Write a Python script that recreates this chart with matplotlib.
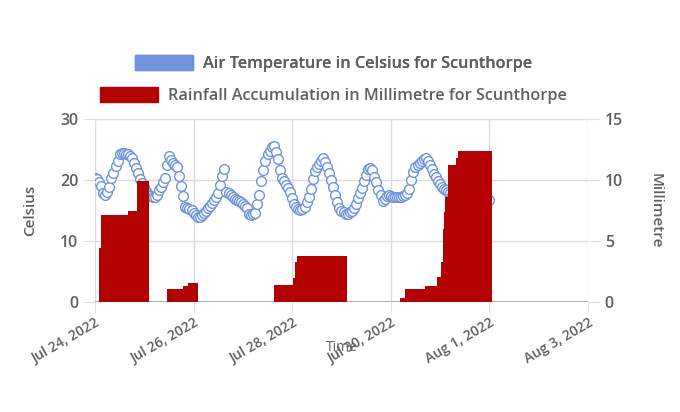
import datetime as dt
import matplotlib
matplotlib.use("Agg")
from matplotlib import pyplot as plt
import matplotlib.dates as mdates
from matplotlib.patches import Patch

plt.rcParams['font.family'] = ['Open Sans', 'DejaVu Sans']

start = dt.datetime(2022, 7, 24)

# hourly air temperature (Celsius), from Jul 24 00:00
temp_c = [20.4, 20.2, 19.6, 19.0, 17.8, 17.6, 18.1, 18.8, 20.3, 21.2,
          22.3, 23.2, 24.2, 24.5, 24.4, 24.2, 24.3, 24.0, 23.6, 22.8,
          22.0, 21.1, 20.2, 19.5, 18.8, 18.2, 17.7, 17.4, 17.2, 17.3,
          17.6, 18.3, 18.9, 19.6, 20.4, 22.5, 23.9, 23.3, 22.8, 22.5,
          22.2, 20.6, 19.0, 17.4, 15.6, 15.4, 15.2, 15.1, 14.6, 14.3,
          14.0, 14.0, 14.2, 14.6, 15.0, 15.4, 15.8, 16.2, 16.7, 17.3,
          17.9, 19.2, 20.6, 21.8, 18.1, 17.8, 17.5, 17.2, 16.9, 16.7,
          16.5, 16.4, 16.1, 15.8, 15.4, 14.5, 14.2, 14.4, 14.6, 16.0,
          17.5, 19.8, 21.6, 23.1, 24.2, 24.8, 25.4, 25.6, 24.6, 23.5,
          21.6, 20.4, 19.8, 19.2, 18.7, 18.1, 17.0, 16.1, 15.6, 15.3,
          15.1, 15.3, 15.6, 16.4, 17.2, 18.5, 20.2, 21.5, 22.2, 22.7,
          23.2, 23.6, 23.0, 22.2, 21.2, 20.0, 18.9, 17.6, 16.4, 15.4,
          15.0, 14.7, 14.5, 14.5, 14.7, 14.9, 15.4, 16.1, 17.0, 17.9,
          18.7, 19.8, 20.8, 21.8, 21.9, 21.6, 20.5, 19.6, 18.4, 17.6,
          16.6, 16.9, 17.4, 17.5, 17.4, 17.3, 17.3, 17.2, 17.3, 17.3,
          17.4, 17.6, 17.9, 18.5, 20.0, 21.3, 22.2, 22.4, 22.8, 23.1,
          23.5, 23.6, 23.1, 22.5, 21.8, 21.0, 20.5, 19.9, 19.3, 18.9,
          18.6, 18.3, 18.0, 17.8, 17.6, 17.5, 17.3, 17.2, 17.1, 17.0,
          17.0, 17.1, 17.4, 17.8, 18.2, 18.5, 18.6, 18.4, 18.0, 17.6,
          17.2, 17.0, 16.8]
temp_time = [start + dt.timedelta(hours=h) for h in range(len(temp_c))]

# rainfall accumulation steps: start hour, end hour, mm
rain_from = [2.1, 2.8, 16.0, 20.3,
             34.9, 43.0, 45.4,
             87.1, 96.2, 97.4, 98.2,
             148.5, 150.9, 160.5, 166.6, 168.3, 169.2, 169.9, 170.4, 172.0, 175.5, 176.8]
rain_to = [2.8, 16.0, 20.3, 26.3,
           43.0, 45.4, 50.0,
           96.2, 97.4, 98.2, 122.5,
           150.9, 160.5, 166.6, 168.3, 169.2, 169.9, 170.4, 172.0, 175.5, 176.8, 193.3]
rain_mm = [4.4, 7.1, 7.45, 9.95,
           1.1, 1.32, 1.56,
           1.37, 2.0, 3.24, 3.78,
           0.3, 1.04, 1.32, 2.06, 3.3, 6.0, 7.4, 8.6, 11.2, 11.8, 12.4]

blue = '#6f93db'
red = '#b30000'
grey = '#5f5f5f'
gridc = '#dcdcdc'

fig = plt.figure(figsize=(6.8, 4.12), dpi=100)
ax = fig.add_axes([0.1397, 0.267, 0.725, 0.444])
ax2 = ax.twinx()

ax.plot(temp_time, temp_c, linestyle='none', marker='o', markersize=7,
        markerfacecolor='white', markeredgecolor=blue, markeredgewidth=1.0, zorder=3)

bar_x = [start + dt.timedelta(hours=h) for h in rain_from]
bar_w = [(b - a) / 24 for a, b in zip(rain_from, rain_to)]
ax2.bar(bar_x, rain_mm, width=bar_w, align='edge', color=red, linewidth=0, zorder=3)

ax.set_xlim(start, start + dt.timedelta(days=10))
ax.set_ylim(0, 30)
ax2.set_ylim(0, 15)
ax.set_yticks([0, 10, 20, 30])
ax2.set_yticks([0, 5, 10, 15])
ax.xaxis.set_major_locator(mdates.DayLocator(bymonthday=[24, 26, 28, 30, 1, 3]))
ax.xaxis.set_major_formatter(mdates.DateFormatter('%b %-d, %Y'))

for a in (ax, ax2):
    for s in a.spines.values():
        s.set_visible(False)
ax.grid(True, color=gridc, linewidth=1)
ax.axhline(0, color='#a0a0a0', linewidth=1.2, zorder=4)
ax.set_axisbelow(True)

ax.tick_params(axis='y', length=8, color=gridc, labelsize=11.5, labelcolor=grey, pad=4)
ax2.tick_params(axis='y', length=8, color=gridc, labelsize=11.5, labelcolor=grey, pad=4)
ax.tick_params(axis='x', length=8, color=gridc, labelsize=10, labelcolor=grey, pad=2)
for t in ax.get_yticklabels() + ax2.get_yticklabels():
    t.set_fontweight('semibold')
for t in ax.get_xticklabels():
    t.set_rotation(30)
    t.set_ha('right')
    t.set_rotation_mode('anchor')
    t.set_fontweight('semibold')

ax.set_ylabel('Celsius', fontsize=11, color=grey, fontweight='semibold')
ax.yaxis.set_label_coords(-0.118, 0.5)
ax2.set_ylabel('Millimetre', fontsize=11, color=grey, rotation=270, va='bottom',
               fontweight='semibold')
ax2.yaxis.set_label_coords(1.122, 0.5)
ax.set_xlabel('Time', fontsize=10, color=grey)
ax.xaxis.set_label_coords(0.5, -0.21)

leg1 = fig.legend(handles=[Patch(facecolor=blue, edgecolor=blue)],
                  labels=['Air Temperature in Celsius for Scunthorpe'],
                  loc='center', bbox_to_anchor=(0.49, 0.846), frameon=False,
                  handlelength=3.6, handleheight=1.0, handletextpad=0.6,
                  prop={'size': 11.7, 'weight': 'semibold'}, labelcolor=grey)
leg2 = fig.legend(handles=[Patch(facecolor=red, edgecolor=red)],
                  labels=['Rainfall Accumulation in Millimetre for Scunthorpe'],
                  loc='center', bbox_to_anchor=(0.49, 0.768), frameon=False,
                  handlelength=3.6, handleheight=1.0, handletextpad=0.6,
                  prop={'size': 11.7, 'weight': 'semibold'}, labelcolor=grey)
fig.add_artist(leg1)

fig.savefig('out.png', dpi=100)
